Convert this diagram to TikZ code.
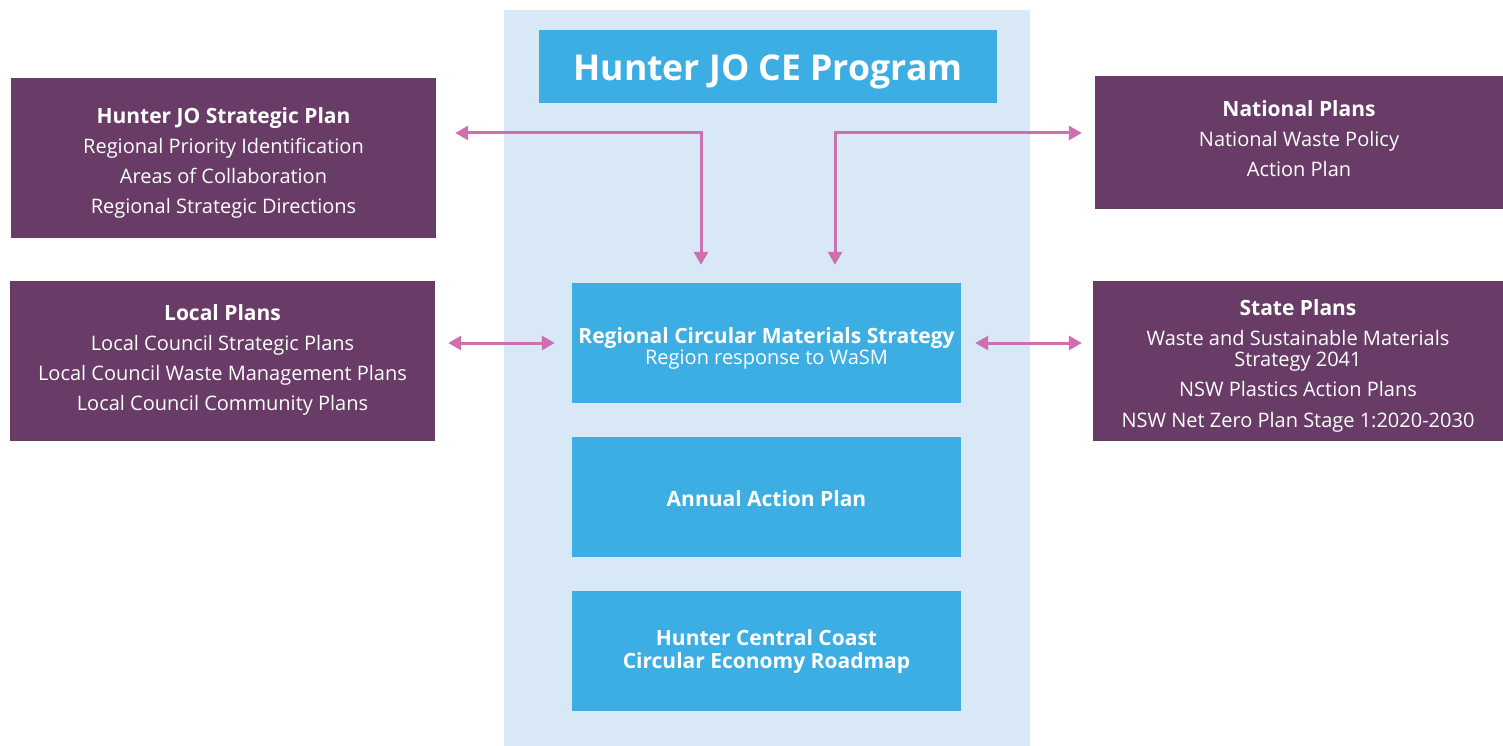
\documentclass[tikz,border=0pt]{standalone}
\usepackage{fontspec}
\setmainfont{Open Sans}
\usetikzlibrary{arrows.meta}
\definecolor{panelbg}{RGB}{217,232,247}
\definecolor{boxblue}{RGB}{61,174,227}
\definecolor{plum}{RGB}{104,60,102}
\definecolor{arrpink}{RGB}{206,112,175}
\newcommand{\hd}[1]{{\fontsize{21}{30}\selectfont\bfseries #1}}
\tikzset{
  bluebox/.style={fill=boxblue, inner sep=0pt},
  plumbox/.style={fill=plum, inner sep=0pt},
  btext/.style={text=white, inner sep=0pt, align=center,
    font=\fontsize{21}{23}\selectfont\bfseries},
  ptext/.style={text=white, inner sep=0pt, align=center,
    font=\fontsize{20}{30}\selectfont},
  arr/.style={draw=arrpink, line width=3pt,
    {Triangle[length=13pt,width=14pt]}-{Triangle[length=13pt,width=14pt]}},
}
\begin{document}
\begin{tikzpicture}[x=1pt,y=-1pt]
\useasboundingbox (0,0) rectangle (1503,746);
\fill[panelbg] (504,10) rectangle (1030,746);
% boxes
\node[bluebox, minimum width=458pt, minimum height=73pt] (title) at (768,66.5) {};
\node[bluebox, minimum width=389pt, minimum height=120pt] (rcms) at (766.5,343) {};
\node[bluebox, minimum width=389pt, minimum height=120pt] (aap) at (766.5,497) {};
\node[bluebox, minimum width=389pt, minimum height=120pt] (road) at (766.5,651) {};
\node[plumbox, minimum width=425pt, minimum height=160pt] (hjo) at (223.5,158) {};
\node[plumbox, minimum width=425pt, minimum height=160pt] (local) at (222.5,361) {};
\node[plumbox, minimum width=408pt, minimum height=133pt] (national) at (1299,142.5) {};
\node[plumbox, minimum width=410pt, minimum height=160pt] (state) at (1298,361) {};
% texts
\node[btext, font=\fontsize{35.6}{40}\selectfont\bfseries] (titlet) at ([yshift=-5pt]title.center) {Hunter JO CE Program};
\node[btext] (rcmst) at ([yshift=-5pt]rcms.center)
  {Regional Circular Materials Strategy\\[-2pt]{\fontsize{20}{23}\selectfont\mdseries Region response to WaSM}};
\node[btext] (aapt) at ([yshift=-2pt]aap.center) {Annual Action Plan};
\node[btext] (roadt) at ([yshift=-1pt]road.center) {Hunter Central Coast\\Circular Economy Roadmap};
\node[ptext] (hjot) at ([yshift=-5pt]hjo.center)
  {\hd{Hunter JO Strategic Plan}\\Regional Priority Identification\\Areas of Collaboration\\Regional Strategic Directions};
\node[ptext] (localt) at ([yshift=1pt]local.center)
  {\hd{Local Plans}\\Local Council Strategic Plans\\Local Council Waste Management Plans\\Local Council Community Plans};
\node[ptext] (nationalt) at ([yshift=4pt]national.center)
  {\hd{National Plans}\\National Waste Policy\\Action Plan};
\node[ptext] (statet) at ([yshift=-5pt]state.center)
  {\hd{State Plans}\\Waste and Sustainable Materials\\[-9pt]Strategy 2041\\NSW Plastics Action Plans\\[1pt]NSW Net Zero Plan Stage 1:2020-2030};
% connectors
\coordinate (cl) at (701,133);
\coordinate (cr) at (835,133);
\draw[arr, shorten <=19pt, shorten >=18pt] (hjo.east |- cl) -- (cl) -- (cl |- rcms.north);
\draw[arr, shorten <=13pt, shorten >=18pt] (national.west |- cr) -- (cr) -- (cr |- rcms.north);
\draw[arr, shorten <=13pt, shorten >=17pt] (local.east |- rcms.center) -- (rcms.west);
\draw[arr, shorten <=14pt, shorten >=11pt] (rcms.east) -- (state.west |- rcms.center);
\end{tikzpicture}
\end{document}
